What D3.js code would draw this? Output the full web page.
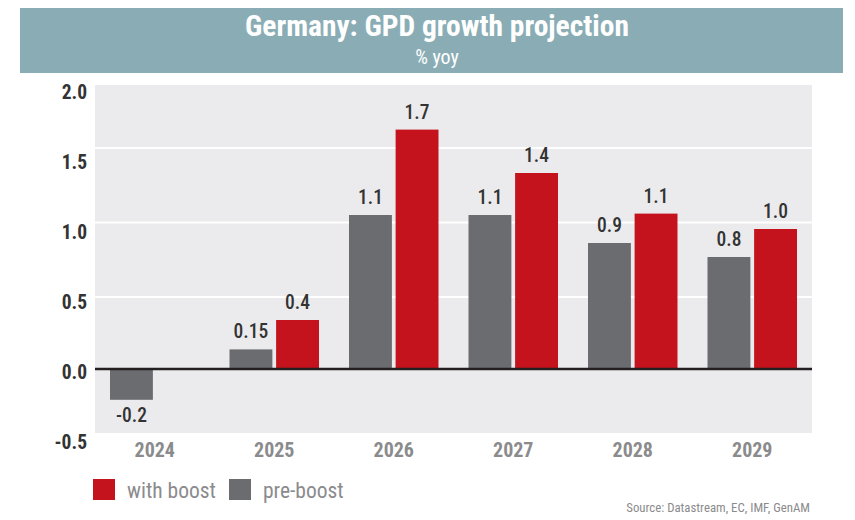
<!DOCTYPE html>
<html>
<head>
<meta charset="utf-8">
<script src="https://cdn.jsdelivr.net/npm/d3@7"></script>
<style>
  html, body { margin: 0; padding: 0; background: #ffffff; }
  svg { display: block; }
  svg text { font-family: Roboto, "Open Sans", sans-serif; font-stretch: 75%; }
</style>
</head>
<body>
<svg id="chart" width="855" height="520"></svg>
<script>
// ---- data ----
const years = ["2024", "2025", "2026", "2027", "2028", "2029"];
const preBoost = [-0.22, 0.14, 1.1, 1.1, 0.9, 0.8];
const withBoost = [null, 0.35, 1.71, 1.4, 1.11, 1.0];
const preBoostLabels = ["-0.2", "0.15", "1.1", "1.1", "0.9", "0.8"];
const withBoostLabels = ["", "0.4", "1.7", "1.4", "1.1", "1.0"];
const yTicks = [-0.5, 0, 0.5, 1.0, 1.5, 2.0];
const gridTicks = [0.5, 1.0, 1.5];
const seriesNames = ["with boost", "pre-boost"];
const title = "Germany: GPD growth projection";
const subtitle = "% yoy";
const source = "Source: Datastream, EC, IMF, GenAM";

// ---- styles ----
const RED = "#c4131c", GREY = "#6b6c70", BANNER = "#8aadb5", PLOTBG = "#ebebed";

const svg = d3.select("#chart");

// banner
svg.append("rect").attr("x", 20).attr("y", 8).attr("width", 823).attr("height", 65).attr("fill", BANNER);
svg.append("text").attr("x", 437).attr("y", 36).attr("text-anchor", "middle")
  .attr("fill", "#fff").attr("font-size", 29.5).attr("font-weight", "bold").text(title);
svg.append("text").attr("x", 437).attr("y", 64).attr("text-anchor", "middle")
  .attr("fill", "#fff").attr("font-size", 20).text(subtitle);

// scales
const plotLeft = 95, plotRight = 812, plotTop = 85, plotBottom = 433;
const y = d3.scaleLinear().domain([-0.5, 2.0]).range([439, 89]);
const yGrid = d3.scaleLinear().domain([0.5, 1.5]).range([297, 148]);
const x0 = d3.scaleBand().domain(years).range([plotLeft, plotRight]);
const x1 = d3.scaleBand().domain(["pre", "with"]).range([15, 104.5]).paddingInner(0.08);

// plot background
svg.append("rect").attr("x", plotLeft).attr("y", plotTop)
  .attr("width", plotRight - plotLeft).attr("height", plotBottom - plotTop).attr("fill", PLOTBG);

// gridlines
svg.append("g").selectAll("line").data(gridTicks).join("line")
  .attr("x1", plotLeft).attr("x2", plotRight)
  .attr("y1", d => yGrid(d)).attr("y2", d => yGrid(d))
  .attr("stroke", "#fff").attr("stroke-width", 2);

// y axis labels
const fmt = d => d3.format(".1f")(d).replace("\u2212", "-");
const yAxis = d3.axisLeft(y).tickValues(yTicks).tickFormat(fmt).tickSize(0).tickPadding(0);
const gy = svg.append("g").attr("transform", `translate(87,3)`).call(yAxis);
gy.select(".domain").remove();
gy.selectAll("text").attr("font-size", 19.5).attr("font-weight", "bold").attr("fill", "#333")
  .style("font-family", "Roboto, sans-serif").style("font-stretch", "75%");

// data rows
const rows = years.map((yr, i) => ({ yr, pre: preBoost[i], wb: withBoost[i], preL: preBoostLabels[i], wbL: withBoostLabels[i] }));

const groups = svg.append("g").selectAll("g").data(rows).join("g")
  .attr("transform", d => `translate(${x0(d.yr)},0)`);

// pre-boost bars
groups.append("rect")
  .attr("x", x1("pre")).attr("width", x1.bandwidth())
  .attr("y", d => y(Math.max(0, d.pre))).attr("height", d => Math.abs(y(d.pre) - y(0)))
  .attr("fill", GREY);
// with boost bars
groups.filter(d => d.wb !== null).append("rect")
  .attr("x", x1("with")).attr("width", x1.bandwidth())
  .attr("y", d => y(Math.max(0, d.wb))).attr("height", d => Math.abs(y(d.wb) - y(0)))
  .attr("fill", RED);

// value labels
groups.append("text")
  .attr("x", x1("pre") + x1.bandwidth() / 2)
  .attr("y", d => d.pre >= 0 ? y(d.pre) - 11 : y(d.pre) + 22)
  .attr("text-anchor", "middle").attr("font-size", 19.5).attr("font-weight", 500).attr("fill", "#333")
  .text(d => d.preL);
groups.filter(d => d.wb !== null).append("text")
  .attr("x", x1("with") + x1.bandwidth() / 2)
  .attr("y", d => y(d.wb) - 11)
  .attr("text-anchor", "middle").attr("font-size", 19.5).attr("font-weight", 500).attr("fill", "#333")
  .text(d => d.wbL);

// zero line
svg.append("line").attr("x1", plotLeft).attr("x2", plotRight)
  .attr("y1", y(0)).attr("y2", y(0)).attr("stroke", "#231f20").attr("stroke-width", 2.5);

// x axis labels
const xAxis = d3.axisBottom(x0).tickSize(0).tickPadding(0);
const gx = svg.append("g").attr("transform", `translate(0,443)`).call(xAxis);
gx.select(".domain").remove();
gx.selectAll("text").attr("font-size", 20).attr("font-weight", "bold").attr("fill", "#8b8b8d")
  .style("font-family", "Roboto, sans-serif").style("font-stretch", "75%");

// legend
const legend = svg.append("g").attr("transform", "translate(93,479)");
const legItems = [{ name: seriesNames[0], color: RED, dx: 0 }, { name: seriesNames[1], color: GREY, dx: 136 }];
const li = legend.selectAll("g").data(legItems).join("g").attr("transform", d => `translate(${d.dx},0)`);
li.append("rect").attr("width", 22).attr("height", 21).attr("fill", d => d.color);
li.append("text").attr("x", 34).attr("y", 19).attr("font-size", 21.5).attr("fill", "#8b8b8d").text(d => d.name);

// source
svg.append("text").attr("x", 810).attr("y", 512).attr("text-anchor", "end")
  .attr("font-size", 12.8).attr("fill", "#8b8b8d").text(source);
</script>
</body>
</html>
